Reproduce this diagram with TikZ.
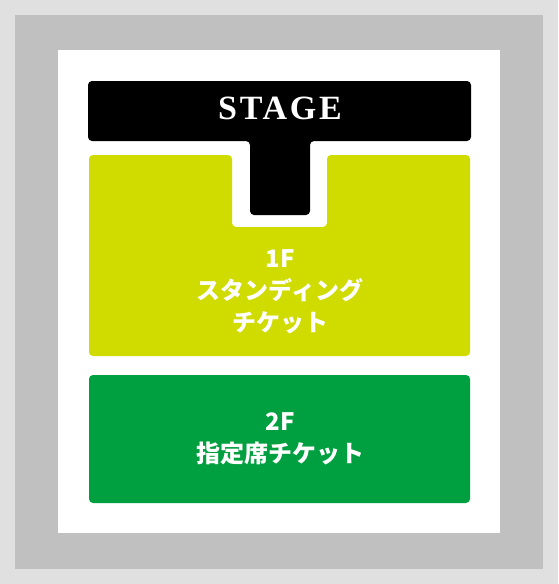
\documentclass[tikz,border=0pt]{standalone}
\usepackage{fontspec}
\newfontfamily\jpfont{Noto Sans CJK JP}
\newfontfamily\stagefont{Liberation Serif}[LetterSpace=8]
\usetikzlibrary{positioning}
\definecolor{outergray}{HTML}{E0E0E0}
\definecolor{wallgray}{HTML}{C0C0C0}
\definecolor{standlime}{HTML}{D0DB00}
\definecolor{seatgreen}{HTML}{009F3F}

\begin{document}
\begin{tikzpicture}[x=1pt,y=-1pt,
  area/.style={rounded corners=4pt},
  areatext/.style={text=white, align=center, inner sep=0pt,
    font=\jpfont\bfseries\fontsize{24}{32}\selectfont}]
  % hall
  \fill[outergray] (0,0) rectangle (558,584);
  \fill[wallgray] (15,15) rectangle (543,569);
  \fill[white] (58,50) rectangle (500,533);
  % stage with runway
  \fill[black, area] (88,81) -- (471,81) -- (471,141) -- (310,141) -- (310,215)
    -- (250,215) -- (250,141) -- (88,141) -- cycle;
  \node[text=white, font=\stagefont\bfseries\fontsize{34}{34}\selectfont] (stage) at (280,108) {STAGE};
  % 1F standing
  \fill[standlime, area] (89,155) -- (232,155) -- (232,227) -- (327,227) -- (327,155)
    -- (470,155) -- (470,356) -- (89,356) -- cycle;
  \node[areatext] (floor1) at (280,292) {1F\\スタンディング\\チケット};
  % 2F seats
  \fill[seatgreen, area] (89,375) rectangle (470,503);
  \node[areatext] (floor2) at (280,439) {2F\\指定席チケット};
\end{tikzpicture}
\end{document}
